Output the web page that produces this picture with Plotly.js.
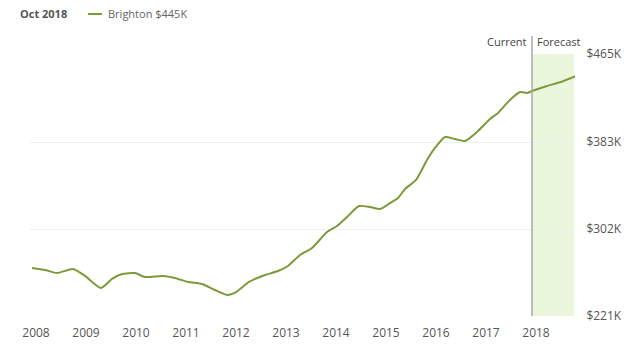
<!DOCTYPE html>
<html>
<head>
<meta charset="utf-8">
<script src="https://cdn.plot.ly/plotly-3.0.1.min.js"></script>
<style>html,body{margin:0;padding:0;background:#fff;}#chart{width:640px;height:351px;}</style>
</head>
<body>
<div id="chart"></div>
<script>
// Time in decimal years, value in thousands of dollars
const years = [2007.92,2008.18,2008.42,2008.74,2008.98,2009.30,2009.52,2009.72,2009.98,2010.18,2010.54,2010.78,2011.04,2011.32,2011.58,2011.82,2012.00,2012.26,2012.58,2012.84,2013.04,2013.28,2013.52,2013.82,2014.02,2014.24,2014.46,2014.68,2014.88,2015.08,2015.24,2015.38,2015.60,2015.82,2015.98,2016.18,2016.38,2016.58,2016.84,2017.08,2017.24,2017.48,2017.68,2017.82,2017.92,2018.22,2018.50,2018.80];
const values = [265.7,263.8,261.0,264.8,258.3,247.1,255.5,260.1,261.0,257.3,258.3,256.4,252.7,250.8,245.2,240.6,243.3,252.7,259.2,262.9,267.6,277.8,284.3,299.2,304.8,314.1,323.4,322.5,320.6,326.2,330.9,339.3,347.7,366.3,377.5,387.7,385.8,384.0,393.3,404.5,410.1,422.2,429.6,428.7,430.5,435.2,438.9,444.5];
const xTicks = [2008,2009,2010,2011,2012,2013,2014,2015,2016,2017,2018];
const xTickLabels = ["2008","2009","2010","2011","2012","2013","2014","2015","2016","2017","2018"];
const yTicks = [221,302,383,465];
const yTickLabels = ["$221K","$302K","$383K","$465K"];
const currentDate = 2017.92;
const forecastEnd = 2018.76;
const seriesName = "Brighton $445K";
const dateLabel = "Oct 2018";

const green = "#7b9a3a";
const trace = {
  x: years, y: values, type: "scatter", mode: "lines",
  line: {color: green, width: 2, shape: "spline", smoothing: 0.6},
  showlegend: false, hoverinfo: "skip"
};
const layout = {
  width: 640, height: 351,
  margin: {l: 30, r: 65, t: 54, b: 35},
  paper_bgcolor: "#fff", plot_bgcolor: "#fff",
  font: {family: "Open Sans, sans-serif", color: "#555", size: 12},
  xaxis: {
    range: [2007.88, 2018.78], tickvals: xTicks, ticktext: xTickLabels,
    showgrid: false, zeroline: false, showline: false,
    ticks: "outside", ticklen: 6, tickcolor: "rgba(0,0,0,0)",
    tickfont: {size: 12, color: "#555"}
  },
  yaxis: {
    range: [221, 465], side: "right", tickvals: yTicks, ticktext: yTickLabels,
    showgrid: true, gridcolor: "#f0f0f0", gridwidth: 1, zeroline: false, showline: false,
    ticks: "outside", ticklen: 8, tickcolor: "rgba(0,0,0,0)",
    tickfont: {size: 12, color: "#555"}
  },
  shapes: [
    {type: "rect", xref: "x", yref: "paper", x0: currentDate, x1: forecastEnd, y0: 0, y1: 1,
     fillcolor: "#ebf7dc", line: {width: 0}, layer: "between"},
    {type: "line", xref: "x", yref: "paper", x0: currentDate, x1: currentDate, y0: 0, y1: 1.069,
     line: {color: "#a8a8a8", width: 1.5}},
    {type: "line", xref: "paper", yref: "paper", x0: (88-30)/545, x1: (102-30)/545, y0: (316-14)/262, y1: (316-14)/262,
     line: {color: green, width: 2}}
  ],
  annotations: [
    {text: "Current", xref: "x", yref: "paper", x: currentDate - 0.06, y: (316-42)/262, xanchor: "right", yanchor: "middle",
     showarrow: false, font: {size: 11, color: "#444"}},
    {text: "Forecast", xref: "x", yref: "paper", x: currentDate + 0.06, y: (316-42)/262, xanchor: "left", yanchor: "middle",
     showarrow: false, font: {size: 11, color: "#444"}},
    {text: "<b>" + dateLabel + "</b>", xref: "paper", yref: "paper", x: (18-30)/545, y: (316-14)/262, xanchor: "left", yanchor: "middle",
     showarrow: false, font: {size: 11, color: "#555"}},
    {text: seriesName, xref: "paper", yref: "paper", x: (106-30)/545, y: (316-14)/262, xanchor: "left", yanchor: "middle",
     showarrow: false, font: {size: 11, color: "#666"}}
  ]
};
Plotly.newPlot("chart", [trace], layout, {displayModeBar: false, staticPlot: true});
</script>
</body>
</html>
